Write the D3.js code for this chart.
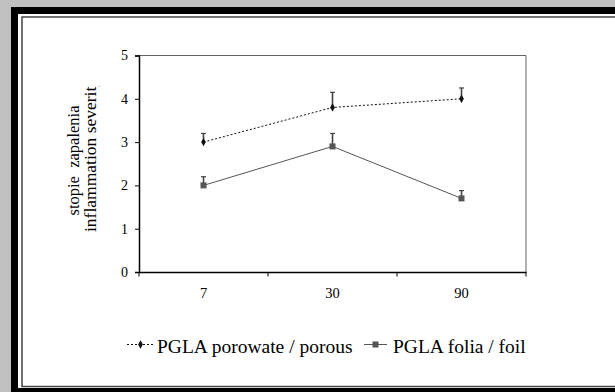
<!DOCTYPE html>
<html>
<head>
<meta charset="utf-8">
<script src="https://cdn.jsdelivr.net/npm/d3@7"></script>
<style>
  body { margin: 0; background: #c0c0c0; }
</style>
</head>
<body>
<div id="chart"></div>
<script>
// days after implantation
let days = ["7", "30", "90"];
// PGLA porowate / porous
let porousMean = [3.0, 3.8, 4.0];
let porousErr = [0.2, 0.35, 0.25];
// PGLA folia / foil
let foilMean = [2.0, 2.9, 1.7];
let foilErr = [0.2, 0.3, 0.18];
let yTicks = [0, 1, 2, 3, 4, 5];

let serif = '"Liberation Serif", "Times New Roman", serif';

let svgWidth = 615;
let svgHeight = 392;

let svg = d3.select("#chart")
  .append("svg")
  .attr("width", svgWidth)
  .attr("height", svgHeight);

// frame: grey page, thick black border, white sheet, thin inner line
svg.append("rect").attr("width", svgWidth).attr("height", svgHeight).attr("fill", "#c0c0c0");
svg.append("rect").attr("x", 11).attr("y", 7).attr("width", 620).attr("height", 400).attr("fill", "#000");
svg.append("rect").attr("x", 18).attr("y", 14).attr("width", 620).attr("height", 374).attr("fill", "#fff");
svg.append("rect").attr("x", 22).attr("y", 17).attr("width", 620).attr("height", 369.5)
  .attr("fill", "none").attr("stroke", "#444").attr("stroke-width", 1.5);

let plot = { left: 139, right: 526, top: 55.5, bottom: 272 };

let x = d3.scaleBand()
  .domain(days)
  .range([plot.left, plot.right]);

let y = d3.scaleLinear()
  .domain([0, 5])
  .range([plot.bottom, plot.top]);

// plot area border (top and right)
svg.append("path")
  .attr("d", `M${plot.left},${plot.top}H${plot.right}V${plot.bottom}`)
  .attr("fill", "none")
  .attr("stroke", "#666")
  .attr("stroke-width", 1);

// y axis
let yAxis = svg.append("g")
  .attr("transform", `translate(${plot.left},0)`)
  .call(d3.axisLeft(y).tickValues(yTicks).tickSize(4).tickPadding(7).tickFormat(d3.format("d")));
yAxis.select(".domain").attr("stroke", "#000").attr("stroke-width", 1.5);
yAxis.selectAll("text").style("font-family", serif).style("font-size", "14px");

// x axis: labels at band centres, ticks at band boundaries
let xAxis = svg.append("g")
  .attr("transform", `translate(0,${plot.bottom})`)
  .call(d3.axisBottom(x).tickSizeInner(0).tickSizeOuter(0).tickPadding(16));
xAxis.select(".domain").attr("stroke", "#000").attr("stroke-width", 1.5);
xAxis.selectAll("text").style("font-family", serif).style("font-size", "14.5px");

let bounds = days.map(d => x(d)).concat([x.range()[1]]);
xAxis.selectAll(".bound")
  .data(bounds)
  .enter()
  .append("line")
  .attr("x1", d => d).attr("x2", d => d)
  .attr("y1", 0).attr("y2", 4.5)
  .attr("stroke", "#000");

// y axis title (two lines, top clipped like the original)
svg.append("clipPath").attr("id", "ytclip")
  .append("rect").attr("x", 50).attr("y", 86).attr("width", 60).attr("height", 200);

let yTitle = svg.append("g").attr("clip-path", "url(#ytclip)");
yTitle.append("text")
  .attr("transform", "translate(79,160.5) rotate(-90)")
  .attr("text-anchor", "middle")
  .style("font-family", serif)
  .style("font-size", "16.5px")
  .style("white-space", "pre")
  .text("stopie  zapalenia");
yTitle.append("text")
  .attr("transform", "translate(96,232) rotate(-90)")
  .attr("text-anchor", "start")
  .style("font-family", serif)
  .style("font-size", "17.5px")
  .text("inflammation severity");

let cx = d => x(d) + x.bandwidth() / 2;

let series = [
  { name: "PGLA porowate / porous", mean: porousMean, err: porousErr, color: "#111", dash: "2,2", marker: "diamond" },
  { name: "PGLA folia / foil", mean: foilMean, err: foilErr, color: "#555", dash: null, marker: "square" }
];

let line = d3.line()
  .x(d => cx(d.day))
  .y(d => y(d.v));

function drawMarker(g, type, px, py, color) {
  if (type === "diamond") {
    g.append("path")
      .attr("d", d3.symbol().type(d3.symbolDiamond).size(20)())
      .attr("transform", `translate(${px},${py})`)
      .attr("fill", color);
  } else {
    g.append("rect")
      .attr("x", px - 3).attr("y", py - 3)
      .attr("width", 6).attr("height", 6)
      .attr("fill", color);
  }
}

series.forEach(function(s) {
  let pts = days.map((d, i) => ({ day: d, v: s.mean[i], e: s.err[i] }));
  let g = svg.append("g");

  // error bars (upper only, with cap)
  pts.forEach(function(p) {
    g.append("line")
      .attr("x1", cx(p.day)).attr("x2", cx(p.day))
      .attr("y1", y(p.v)).attr("y2", y(p.v + p.e))
      .attr("stroke", "#444").attr("stroke-width", 1.6);
    g.append("line")
      .attr("x1", cx(p.day) - 2.5).attr("x2", cx(p.day) + 2.5)
      .attr("y1", y(p.v + p.e)).attr("y2", y(p.v + p.e))
      .attr("stroke", "#444").attr("stroke-width", 1.2);
  });

  g.append("path")
    .datum(pts)
    .attr("d", line)
    .attr("fill", "none")
    .attr("stroke", s.color)
    .attr("stroke-width", 1)
    .attr("stroke-dasharray", s.dash);

  pts.forEach(p => drawMarker(g, s.marker, cx(p.day), y(p.v), s.color));
});

// legend
let legendItems = [
  { x1: 127, x2: 154, tx: 157 },
  { x1: 364, x2: 387, tx: 393 }
];
let ly = 344.5;
series.forEach(function(s, i) {
  let it = legendItems[i];
  let g = svg.append("g");
  g.append("line")
    .attr("x1", it.x1).attr("x2", it.x2)
    .attr("y1", ly).attr("y2", ly)
    .attr("stroke", s.color)
    .attr("stroke-dasharray", s.dash);
  drawMarker(g, s.marker, (it.x1 + it.x2) / 2, ly, s.color);
  g.append("text")
    .attr("x", it.tx)
    .attr("y", 352.5)
    .style("font-family", serif)
    .style("font-size", "19.5px")
    .text(s.name);
});
</script>
</body>
</html>
